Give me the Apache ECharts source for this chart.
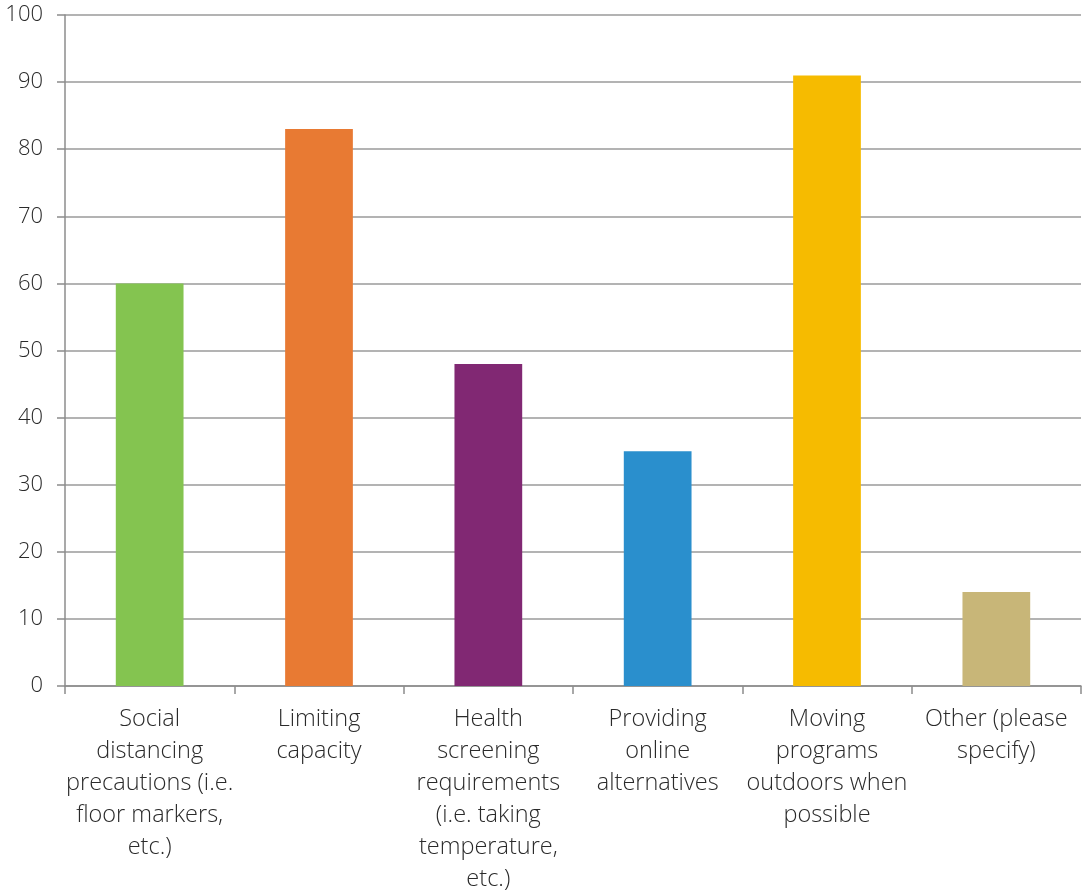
<!DOCTYPE html>
<html>
<head>
<meta charset="utf-8">
<script src="https://cdn.jsdelivr.net/npm/echarts@6/dist/echarts.min.js"></script>
<style>
html,body{margin:0;padding:0;background:#fff;}
#chart{width:1083px;height:895px;}
</style>
</head>
<body>
<div id="chart"></div>
<script>
const categories = [
  "Social\ndistancing\nprecautions (i.e.\nfloor markers,\netc.)",
  "Limiting\ncapacity",
  "Health\nscreening\nrequirements\n(i.e. taking\ntemperature,\netc.)",
  "Providing\nonline\nalternatives",
  "Moving\nprograms\noutdoors when\npossible",
  "Other (please\nspecify)"
];
const values = [60, 83, 48, 35, 91, 14];
const barColors = ["#84c450", "#e87a33", "#812873", "#2a8fcd", "#f6bb00", "#c8b678"];
const yTicks = [0, 10, 20, 30, 40, 50, 60, 70, 80, 90, 100];

const chart = echarts.init(document.getElementById('chart'), null, {renderer: 'canvas'});
chart.setOption({
  animation: false,
  backgroundColor: '#fff',
  grid: {left: 65, right: 2, top: 15, bottom: 200, containLabel: false},
  xAxis: {
    type: 'category',
    data: categories,
    axisLine: {show: true, lineStyle: {color: '#8c8c8c', width: 1.5}},
    axisTick: {show: true, alignWithLabel: false, length: 8, lineStyle: {color: '#8c8c8c', width: 1.5}},
    axisLabel: {
      interval: 0, margin: 17, fontSize: 23.5, lineHeight: 32,
      color: '#2a2a2a', fontFamily: 'Open Sans', fontWeight: 300, align: 'center'
    },
    splitLine: {show: false}
  },
  yAxis: {
    type: 'value',
    min: yTicks[0], max: yTicks[yTicks.length - 1], interval: 10,
    axisLine: {show: true, lineStyle: {color: '#8c8c8c', width: 1.5}},
    axisTick: {show: true, length: 8, lineStyle: {color: '#8c8c8c', width: 1.5}},
    axisLabel: {margin: 22, fontSize: 22, color: '#2a2a2a', fontFamily: 'Open Sans', fontWeight: 300},
    splitLine: {show: true, lineStyle: {color: '#9a9a9a', width: 1.5}}
  },
  series: [{
    type: 'bar',
    barWidth: '40%',
    data: values.map((v, i) => ({value: v, itemStyle: {color: barColors[i]}}))
  }]
});
</script>
</body>
</html>
